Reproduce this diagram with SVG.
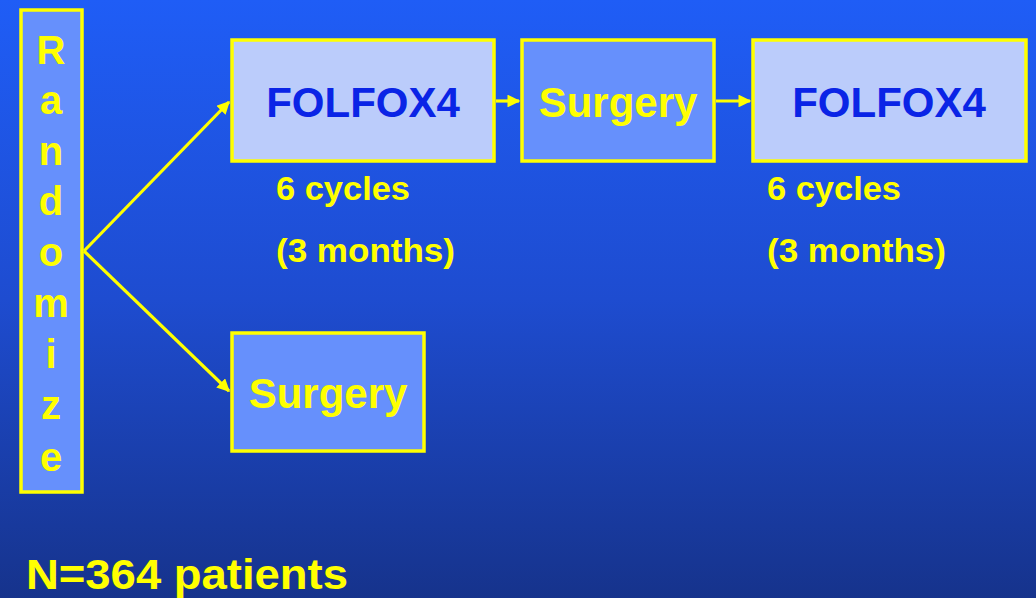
<svg xmlns="http://www.w3.org/2000/svg" width="1036" height="598" viewBox="0 0 1036 598">
  <defs>
    <linearGradient id="bg" x1="0" y1="0" x2="0" y2="1">
      <stop offset="0" stop-color="#1f5df6"/>
      <stop offset="0.5" stop-color="#1e4cd0"/>
      <stop offset="1" stop-color="#16338c"/>
    </linearGradient>
    <marker id="arrow" viewBox="0 0 10 10" refX="9" refY="5" markerWidth="4" markerHeight="4" orient="auto" markerUnits="strokeWidth">
      <path d="M0,0 L10,5 L0,10 z" fill="#ffff00"/>
    </marker>
    <style>
      .box { stroke: #ffff00; stroke-width: 3.5; }
      .drug { fill: #bbccfb; }
      .op { fill: #6690fc; }
      .t { font-family: "Liberation Sans", Arial, sans-serif; font-weight: bold; }
      .blue { fill: #0a24e6; }
      .yellow { fill: #ffff00; }
      .link { stroke: #ffff00; stroke-width: 3.2; fill: none; marker-end: url(#arrow); }
    </style>
  </defs>

  <rect width="1036" height="598" fill="url(#bg)"/>

  <g id="randomize">
    <rect class="box op" x="21" y="10" width="61" height="482"/>
    <g class="t yellow" font-size="40" text-anchor="middle">
      <text x="51" y="64">R</text>
      <text x="51" y="114">a</text>
      <text x="51" y="165">n</text>
      <text x="51" y="215">d</text>
      <text x="51" y="266">o</text>
      <text x="51" y="317">m</text>
      <text x="51" y="368">i</text>
      <text x="51" y="419">z</text>
      <text x="51" y="471">e</text>
    </g>
  </g>

  <g id="folfox4-pre">
    <rect class="box drug" x="232" y="40" width="262" height="121"/>
    <text class="t blue" x="363" y="117" font-size="42" text-anchor="middle">FOLFOX4</text>
    <text class="t yellow" x="276" y="200" font-size="34" textLength="134" lengthAdjust="spacingAndGlyphs">6 cycles</text>
    <text class="t yellow" x="276" y="262" font-size="34" textLength="179" lengthAdjust="spacingAndGlyphs">(3 months)</text>
  </g>

  <g id="surgery-arm-a">
    <rect class="box op" x="522" y="40" width="192" height="121"/>
    <text class="t yellow" x="618" y="117" font-size="42" text-anchor="middle">Surgery</text>
  </g>

  <g id="folfox4-post">
    <rect class="box drug" x="753" y="40" width="273" height="121"/>
    <text class="t blue" x="889" y="117" font-size="42" text-anchor="middle">FOLFOX4</text>
    <text class="t yellow" x="767" y="200" font-size="34" textLength="134" lengthAdjust="spacingAndGlyphs">6 cycles</text>
    <text class="t yellow" x="767" y="262" font-size="34" textLength="179" lengthAdjust="spacingAndGlyphs">(3 months)</text>
  </g>

  <g id="surgery-arm-b">
    <rect class="box op" x="232" y="333" width="192" height="118"/>
    <text class="t yellow" x="328" y="408" font-size="42" text-anchor="middle">Surgery</text>
  </g>

  <g id="connectors">
    <line class="link" x1="84" y1="251" x2="229" y2="102"/>
    <line class="link" x1="84" y1="251" x2="229" y2="391"/>
    <line class="link" x1="496" y1="101" x2="519" y2="101"/>
    <line class="link" x1="716" y1="101" x2="750" y2="101"/>
  </g>

  <text class="t yellow" x="26" y="589" font-size="42" textLength="322" lengthAdjust="spacingAndGlyphs">N=364 patients</text>
</svg>
